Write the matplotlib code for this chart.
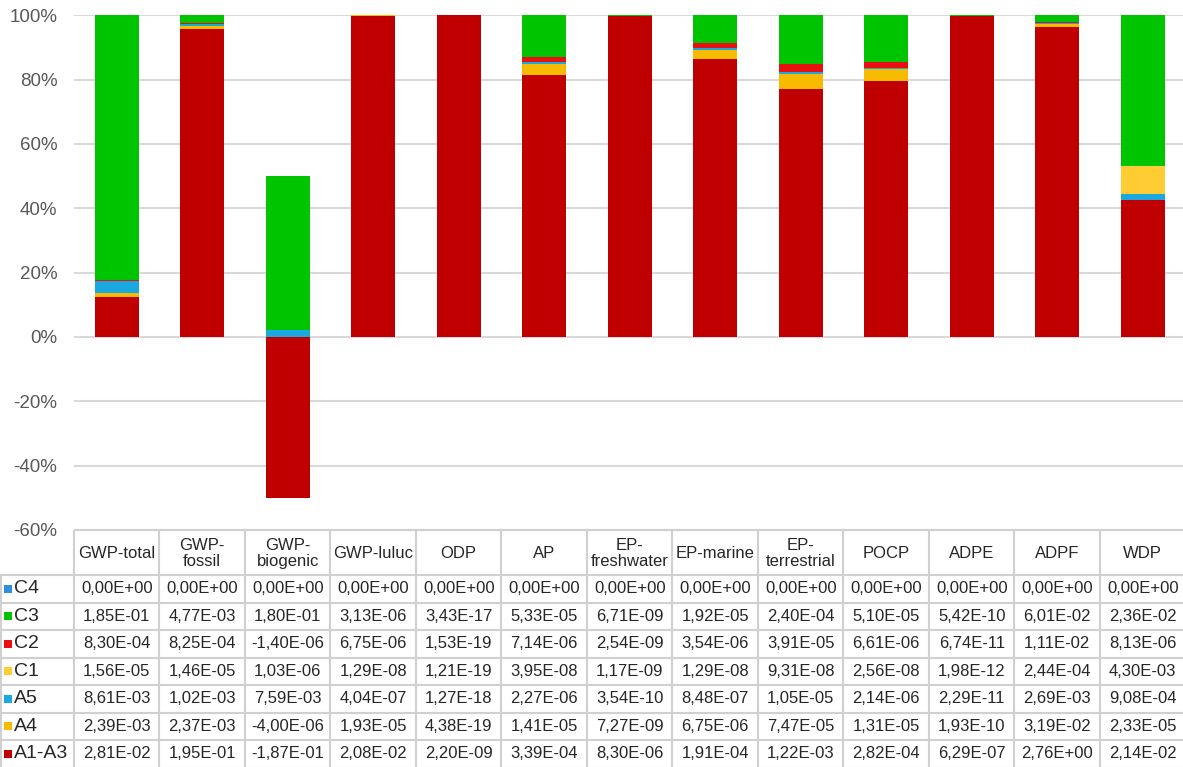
import matplotlib.pyplot as plt
import numpy as np
from matplotlib.patches import Rectangle
from matplotlib.ticker import FuncFormatter, MultipleLocator

plt.rcParams["font.family"] = ["Liberation Sans", "DejaVu Sans"]

# indicators (columns of the data table)
categories = [
    "GWP-total", "GWP-\nfossil", "GWP-\nbiogenic", "GWP-luluc", "ODP", "AP",
    "EP-\nfreshwater", "EP-marine", "EP-\nterrestrial", "POCP", "ADPE", "ADPF", "WDP",
]

# life cycle modules, values as given in the table
A1_A3 = [2.81e-02, 1.95e-01, -1.87e-01, 2.08e-02, 2.20e-09, 3.39e-04, 8.30e-06,
         1.91e-04, 1.22e-03, 2.82e-04, 6.29e-07, 2.76e+00, 2.14e-02]
A4 = [2.39e-03, 2.37e-03, -4.00e-06, 1.93e-05, 4.38e-19, 1.41e-05, 7.27e-09,
      6.75e-06, 7.47e-05, 1.31e-05, 1.93e-10, 3.19e-02, 2.33e-05]
A5 = [8.61e-03, 1.02e-03, 7.59e-03, 4.04e-07, 1.27e-18, 2.27e-06, 3.54e-10,
      8.48e-07, 1.05e-05, 2.14e-06, 2.29e-11, 2.69e-03, 9.08e-04]
C1 = [1.56e-05, 1.46e-05, 1.03e-06, 1.29e-08, 1.21e-19, 3.95e-08, 1.17e-09,
      1.29e-08, 9.31e-08, 2.56e-08, 1.98e-12, 2.44e-04, 4.30e-03]
C2 = [8.30e-04, 8.25e-04, -1.40e-06, 6.75e-06, 1.53e-19, 7.14e-06, 2.54e-09,
      3.54e-06, 3.91e-05, 6.61e-06, 6.74e-11, 1.11e-02, 8.13e-06]
C3 = [1.85e-01, 4.77e-03, 1.80e-01, 3.13e-06, 3.43e-17, 5.33e-05, 6.71e-09,
      1.92e-05, 2.40e-04, 5.10e-05, 5.42e-10, 6.01e-02, 2.36e-02]
C4 = [0.0] * 13

# stacking order, bottom to top
series = [("A1-A3", A1_A3), ("A4", A4), ("A5", A5), ("C1", C1),
          ("C2", C2), ("C3", C3), ("C4", C4)]
colors = {
    "A1-A3": "#C00000", "A4": "#F7BC00", "A5": "#1AA8E0", "C1": "#FFCC33",
    "C2": "#E81010", "C3": "#00C400", "C4": "#2F8FDF",
}

W, H = 1183, 767
fig = plt.figure(figsize=(W / 100, H / 100), dpi=100)

# ---- stacked 100% columns ----
ax = fig.add_axes([74 / W, 1 - 530 / H, (W - 74) / W, (530 - 15.3) / H])
vals = np.array([s[1] for s in series])
pct = vals / np.abs(vals).sum(axis=0)
x = np.arange(len(categories))
pos_base = np.zeros(len(categories))
neg_base = np.zeros(len(categories))
for (name, _), p in zip(series, pct):
    pos = np.where(p > 0, p, 0)
    neg = np.where(p < 0, p, 0)
    ax.bar(x, pos, 0.52, bottom=pos_base, color=colors[name], linewidth=0, zorder=3)
    ax.bar(x, neg, 0.52, bottom=neg_base, color=colors[name], linewidth=0, zorder=3)
    pos_base += pos
    neg_base += neg

col_w = 85.5
ax.set_xlim(-0.5, -0.5 + (W - 74) / col_w)
ax.set_ylim(-0.6, 1.0)
ax.yaxis.set_major_locator(MultipleLocator(0.2))
ax.yaxis.set_major_formatter(FuncFormatter(lambda v, _: f"{round(v * 100):d}%"))
ax.grid(axis="y", color="#D9D9D9", linewidth=1.5, zorder=0)
ax.set_xticks([])
ax.tick_params(axis="y", length=0, pad=12, labelsize=13.5, labelcolor="#595959")
for sp in ax.spines.values():
    sp.set_visible(False)

# ---- data table under the chart (pixel coordinates) ----
tb = fig.add_axes([0, 0, 1, 1], zorder=5)
tb.set_xlim(0, W)
tb.set_ylim(H, 0)
tb.axis("off")

line_c = "#D0D0D0"
top, head_bot, row_h = 530, 575, 27.5
n_rows = len(series)
col_edges = [74 + i * col_w for i in range(len(categories) + 1)]

tb.hlines(top, 74, W, color=line_c, lw=1.5)
for r in range(n_rows + 1):
    tb.hlines(head_bot + r * row_h, 0, W, color=line_c, lw=1.5)
tb.vlines(1, head_bot, H, color=line_c, lw=1.5)
for xe in col_edges:
    tb.vlines(xe, top, H, color=line_c, lw=1.5)

for i, cat in enumerate(categories):
    cx = col_edges[i] + col_w / 2
    tb.text(cx, (top + head_bot) / 2 + 1, cat, ha="center", va="center",
            fontsize=12, color="#262626", linespacing=1.1)

# table rows listed top to bottom: C4 first
for r, (name, v) in enumerate(series[::-1]):
    cy = head_bot + (r + 0.5) * row_h
    tb.add_patch(Rectangle((4, cy - 4), 8, 8, color=colors[name], lw=0))
    tb.text(14, cy, name, ha="left", va="center", fontsize=14, color="#262626")
    for i, val in enumerate(v):
        txt = f"{val:.2E}".replace(".", ",")
        tb.text(col_edges[i] + col_w / 2, cy, txt, ha="center", va="center",
                fontsize=12, color="#262626")

fig.savefig("out.png", dpi=100)
